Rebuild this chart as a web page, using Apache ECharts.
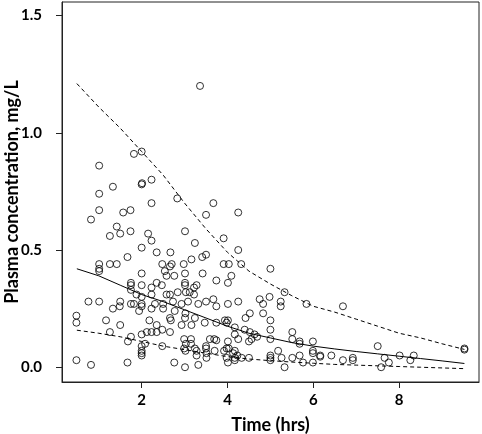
<!DOCTYPE html>
<html><head><meta charset="utf-8">
<script src="https://cdn.jsdelivr.net/npm/echarts@6/dist/echarts.min.js"></script>
<style>html,body{margin:0;padding:0;background:#fff}#c{width:482px;height:434px}</style>
</head><body><div id="c"></div>
<script>
// Observed concentrations (time in hrs, concentration in mg/L)
const timeHrs = [
1.82,2.00,1.01,2.00,2.01,2.23,1.33,1.01,2.23,1.01,1.57,1.74,0.82,1.42,1.26,1.50,1.74,2.15,2.23,2.00,2.35,1.67,1.01,1.01,1.01,1.26,1.42,
2.83,3.67,3.50,4.25,3.01,3.24,3.91,4.25,2.67,3.41,3.50,3.16,2.98,2.70,2.48,3.91,4.03,4.32,3.36,
2.00,1.75,1.75,1.75,2.00,2.23,2.35,1.88,2.00,2.23,0.76,1.01,1.50,1.49,1.75,1.82,2.00,2.00,1.33,2.23,1.94,0.48,0.48,1.17,1.50,2.18,2.35,1.26,1.75,2.00,2.12,2.23,2.35,1.68,2.00,2.08,2.00,2.00,2.00,0.48,0.82,1.67,
2.66,2.54,2.58,2.76,3.01,3.42,2.47,3.01,3.01,3.22,3.28,3.74,4.01,4.09,2.58,2.66,2.84,3.03,3.12,3.22,2.31,2.50,2.73,2.93,3.08,3.32,3.50,3.67,3.74,4.01,4.25,2.50,2.77,3.02,4.52,2.66,2.68,3.01,3.24,3.47,3.74,3.94,4.01,3.98,4.42,2.93,3.16,4.17,2.48,2.66,4.40,4.52,2.48,2.99,3.03,3.15,3.15,3.59,3.69,3.74,4.01,4.50,4.56,2.99,3.02,3.24,3.28,3.50,3.50,3.70,3.92,3.98,4.03,4.17,3.28,3.51,3.51,3.98,4.13,4.17,4.23,4.33,4.50,2.76,3.01,3.32,4.01,4.17,4.17,4.25,
5.00,5.33,4.75,4.83,4.98,5.24,5.24,5.84,6.69,4.83,5.00,4.63,4.69,5.00,5.00,5.51,5.51,5.68,5.68,5.99,5.99,5.99,6.16,6.16,6.42,6.69,5.00,5.00,5.00,5.18,5.26,5.33,5.51,5.68,5.76,5.99,
7.50,9.52,9.52,6.92,6.92,7.66,7.58,7.76,8.01,8.26,8.34
];
const concMgL = [
0.91,0.92,0.86,0.78,0.785,0.80,0.77,0.74,0.70,0.67,0.66,0.67,0.63,0.60,0.56,0.57,0.58,0.57,0.54,0.51,0.49,0.47,0.44,0.42,0.41,0.44,0.44,
0.72,0.70,0.65,0.66,0.58,0.53,0.55,0.50,0.49,0.47,0.48,0.46,0.44,0.44,0.44,0.44,0.44,0.44,1.20,
0.40,0.36,0.35,0.33,0.35,0.34,0.36,0.31,0.30,0.31,0.28,0.28,0.28,0.26,0.27,0.27,0.27,0.26,0.25,0.25,0.24,0.22,0.19,0.20,0.18,0.20,0.18,0.15,0.13,0.14,0.15,0.15,0.15,0.11,0.09,0.10,0.07,0.06,0.05,0.03,0.01,0.02,
0.43,0.41,0.39,0.39,0.40,0.40,0.35,0.36,0.35,0.34,0.35,0.37,0.36,0.39,0.31,0.31,0.32,0.32,0.32,0.31,0.27,0.27,0.28,0.27,0.28,0.27,0.28,0.29,0.26,0.27,0.28,0.25,0.24,0.23,0.23,0.21,0.20,0.21,0.21,0.19,0.19,0.20,0.20,0.19,0.21,0.18,0.18,0.17,0.16,0.15,0.16,0.15,0.09,0.12,0.10,0.12,0.10,0.12,0.12,0.115,0.11,0.11,0.12,0.08,0.07,0.08,0.07,0.09,0.08,0.07,0.07,0.08,0.08,0.07,0.05,0.06,0.04,0.04,0.06,0.04,0.05,0.04,0.04,0.02,0.00,0.01,0.02,0.03,0.14,0.12,
0.42,0.32,0.29,0.27,0.30,0.28,0.26,0.27,0.26,0.23,0.20,0.14,0.13,0.16,0.12,0.15,0.12,0.11,0.10,0.11,0.07,0.06,0.05,0.045,0.05,0.03,0.05,0.04,0.03,0.07,0.04,0.00,0.04,0.05,0.02,0.02,
0.09,0.08,0.075,0.04,0.03,0.04,0.00,0.02,0.05,0.03,0.05
];
// Prediction curves
const curveTime  = [0.49,1.0,1.5,2.0,2.5,3.0,3.5,4.0,4.5,5.0,5.5,6.0,6.5,7.0,7.5,8.0,8.5,9.0,9.52];
const medianConc = [0.42,0.39,0.35,0.31,0.28,0.245,0.21,0.175,0.145,0.125,0.105,0.09,0.078,0.067,0.057,0.047,0.037,0.027,0.016];
const upperConc  = [1.21,1.11,1.02,0.92,0.82,0.70,0.59,0.49,0.41,0.355,0.305,0.26,0.235,0.205,0.175,0.145,0.125,0.10,0.076];
const lowerConc  = [0.158,0.145,0.13,0.11,0.09,0.075,0.06,0.045,0.035,0.028,0.022,0.017,0.012,0.009,0.006,0.003,0.0,-0.003,-0.006];
const xTicks = [2,4,6,8];
const yTicks = [0,0.5,1.0,1.5];

const zip = (a,b) => a.map((v,i) => [v,b[i]]);
const FONT = 'Lato';
const chart = echarts.init(document.getElementById('c'), null, {renderer:'canvas'});
const lineBase = {type:'line', showSymbol:false, symbol:'none', silent:true, animation:false};
chart.setOption({
  animation:false,
  backgroundColor:'#fff',
  grid:{left:62, right:3, top:2, bottom:52, containLabel:false, outerBoundsMode:'none',
        show:true, borderColor:'#222', borderWidth:1, backgroundColor:'transparent'},
  xAxis:{
    type:'value', min:0.144, max:9.86,
    name:'Time (hrs)', nameLocation:'middle', nameGap:34, nameMoveOverlap:false,
    nameTextStyle:{fontFamily:FONT, fontWeight:'bold', fontSize:18, color:'#000'},
    axisLine:{show:true, onZero:false, lineStyle:{color:'#222', width:1}},
    axisTick:{show:true, length:6, inside:false, customValues:xTicks, lineStyle:{color:'#222'}},
    axisLabel:{customValues:xTicks, margin:11, fontFamily:FONT, fontWeight:'bold', fontSize:15, color:'#000', formatter: v => String(v)},
    splitLine:{show:false}
  },
  yAxis:{
    type:'value', min:-0.063, max:1.558,
    name:'Plasma concentration, mg/L', nameLocation:'middle', nameGap:41, nameMoveOverlap:false,
    nameTextStyle:{fontFamily:FONT, fontWeight:'bold', fontSize:18, color:'#000'},
    axisLine:{show:true, onZero:false, lineStyle:{color:'#222', width:1}},
    axisTick:{show:true, length:6, inside:false, customValues:yTicks, lineStyle:{color:'#222'}},
    axisLabel:{customValues:yTicks, margin:20, fontFamily:FONT, fontWeight:'bold', fontSize:15, color:'#000', formatter: v => v.toFixed(1)},
    splitLine:{show:false}
  },
  series:[
    {type:'scatter', data:zip(timeHrs, concMgL), symbol:'circle', symbolSize:7, silent:true,
     itemStyle:{color:'rgba(0,0,0,0)', borderColor:'#000', borderWidth:1}},
    Object.assign({}, lineBase, {data:zip(curveTime, medianConc), lineStyle:{color:'#000', width:1, type:'solid'}}),
    Object.assign({}, lineBase, {data:zip(curveTime, upperConc), lineStyle:{color:'#000', width:1, type:[4,3]}}),
    Object.assign({}, lineBase, {data:zip(curveTime, lowerConc), lineStyle:{color:'#000', width:1, type:[4,3]}})
  ]
});
</script></body></html>
